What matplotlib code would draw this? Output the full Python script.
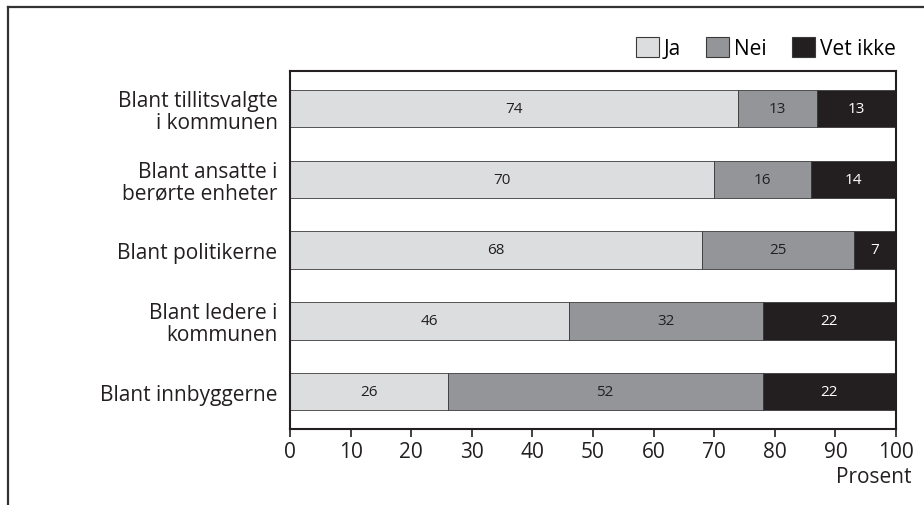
import matplotlib.pyplot as plt
import numpy as np
from matplotlib.lines import Line2D
from matplotlib.patches import Patch

plt.rcParams['font.family'] = ['Open Sans', 'DejaVu Sans']

# Data
groups = ['Blant tillitsvalgte\ni kommunen', 'Blant ansatte i\nberørte enheter',
          'Blant politikerne', 'Blant ledere i\nkommunen', 'Blant innbyggerne']
ja = [74, 70, 68, 46, 26]
nei = [13, 16, 25, 32, 52]
vet_ikke = [13, 14, 7, 22, 22]
series = ['Ja', 'Nei', 'Vet ikke']
colors = ['#dcdddf', '#939598', '#231f20']
text_colors = ['#231f20', '#231f20', 'white']

W, H = 924, 506
fig = plt.figure(figsize=(W / 100, H / 100), dpi=100)
ax = fig.add_axes([290 / W, 1 - 430 / H, (896 - 290) / W, (430 - 72) / H])

y = np.arange(len(groups))
left = np.zeros(len(groups))
for vals, c, tc, name in zip([ja, nei, vet_ikke], colors, text_colors, series):
    bars = ax.barh(y, vals, left=left, height=0.53, color=c,
                   edgecolor='#3a3a3a', linewidth=0.6, label=name)
    ax.bar_label(bars, labels=[str(v) for v in vals], label_type='center',
                 color=tc, fontsize=11)
    left += np.array(vals)

ax.set_xlim(0, 100)
ax.set_ylim(len(groups) - 0.47, -0.53)
ax.set_xticks(range(0, 101, 10))
ax.set_yticks(y)
ax.set_yticklabels(groups, fontsize=15, color='#231f20', linespacing=1.05)
ax.tick_params(axis='y', length=0, pad=9)
ax.tick_params(axis='x', length=6, width=1.2, labelsize=15,
               labelcolor='#231f20', color='#231f20', pad=3)
for s in ax.spines.values():
    s.set_linewidth(1.5)
    s.set_color('#231f20')

fig.text(912 / W, 1 - 478 / H, 'Prosent', ha='right', va='center',
         fontsize=15, color='#231f20')

handles = [Patch(facecolor=c, edgecolor='#3a3a3a', linewidth=0.8) for c in colors]
fig.legend(handles, series, loc='center right', bbox_to_anchor=(896 / W, 1 - 49 / H),
           ncol=3, frameon=False, fontsize=15, handlelength=1.1, handleheight=1.1,
           handletextpad=0.25, columnspacing=1.2, borderaxespad=0, borderpad=0)

# outer frame (top and left)
fig.add_artist(Line2D([8 / W, 1], [1 - 8 / H, 1 - 8 / H], color='#333333', lw=1.6))
fig.add_artist(Line2D([8 / W, 8 / W], [1 - 8 / H, 0], color='#333333', lw=1.6))

fig.savefig('out.png', dpi=100)
